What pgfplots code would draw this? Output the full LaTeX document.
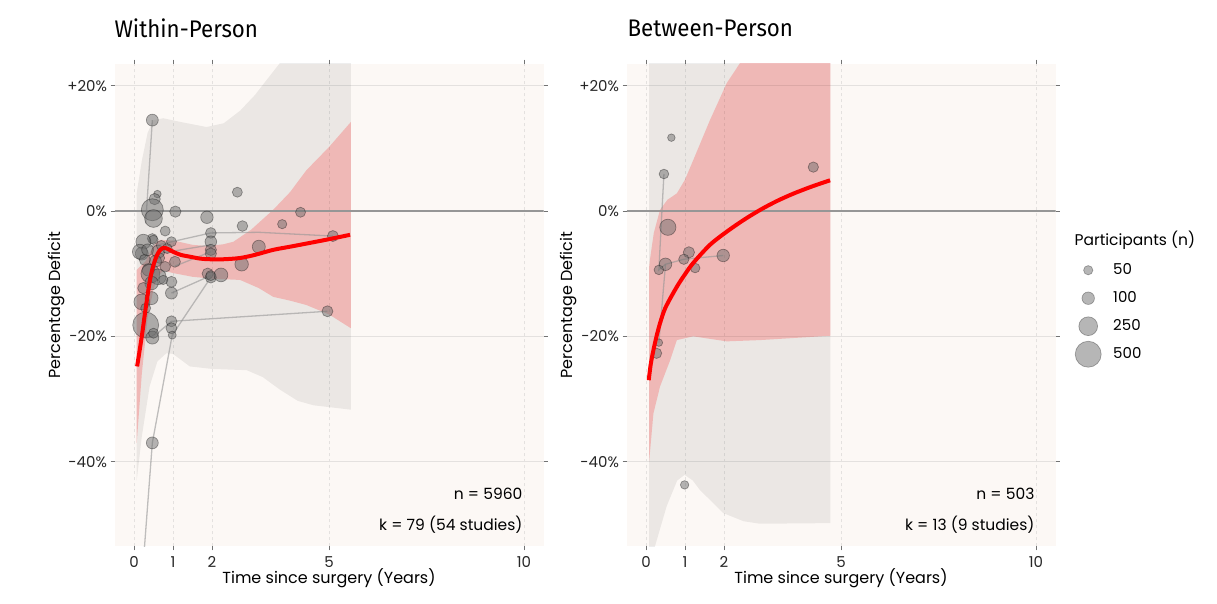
\documentclass[border=0pt]{standalone}
\usepackage{pgfplots}
\usepackage{pgfplotstable}
\pgfplotsset{compat=1.18}
\usepackage{fontspec}
\setmainfont{Poppins}
\newfontfamily\titlefont[FakeStretch=0.93]{Fira Sans}
\definecolor{bgcol}{RGB}{252,248,245}
\definecolor{gridcol}{RGB}{228,225,223}
\definecolor{zerocol}{RGB}{150,150,150}
\definecolor{linecol}{RGB}{150,150,150}
\definecolor{ptfill}{RGB}{110,110,110}
\tikzset{annot/.style={anchor=east, font=\fontsize{15.5}{18}\selectfont}}

\pgfplotstableread{
x y n
0.47 14.5 90
0.47 -37.0 90
0.60 2.7 30
0.53 1.9 80
0.47 0.2 350
0.50 -1.2 220
1.06 -0.1 80
0.80 -3.2 60
0.47 -4.4 60
0.50 -4.6 50
0.24 -4.9 150
0.20 -6.8 110
0.15 -6.5 150
0.28 -7.8 80
0.35 -6.2 90
0.62 -6.5 110
0.70 -5.5 60
0.96 -4.9 60
1.05 -8.1 75
0.80 -8.9 70
0.65 -7.5 70
0.55 -8.0 90
0.37 -9.4 100
0.42 -10.0 250
0.62 -10.5 170
0.45 -11.5 120
0.96 -11.3 75
0.96 -13.1 90
0.24 -12.3 80
0.20 -14.5 170
0.45 -13.9 110
0.30 -15.5 60
0.30 -18.2 500
0.96 -17.6 75
0.96 -18.7 75
0.98 -19.8 35
0.47 -20.2 110
0.50 -19.5 60
0.85 -6.0 60
0.75 -11.0 50
2.65 3.0 60
1.87 -1.0 100
2.78 -2.4 70
1.97 -3.5 70
1.97 -4.9 85
1.97 -6.2 80
1.97 -6.8 80
3.20 -5.7 110
2.76 -8.5 120
1.89 -10.0 80
1.97 -10.6 80
1.97 -10.3 60
2.23 -10.2 125
3.80 -2.1 50
4.27 -0.2 60
5.10 -4.0 75
4.96 -16.0 75
}\leftpts

\pgfplotstableread{
x y n
0.65 11.7 30
0.46 5.9 55
0.56 -2.6 180
1.10 -6.6 80
0.97 -7.7 65
0.50 -8.5 100
0.33 -9.4 55
1.26 -9.1 55
1.98 -7.1 100
4.29 7.0 65
0.33 -21.0 30
0.27 -22.7 65
0.99 -43.7 40
}\rightpts

\begin{document}
\begin{tikzpicture}[x=1pt,y=1pt]
\useasboundingbox (0,0) rectangle (1217,603);
\pgfplotsset{
  panel/.style={
    scale only axis, width=429pt, height=482.6pt,
    xmin=-0.5, xmax=10.5, ymin=-53.5, ymax=23.5,
    xtick={0,1,2,5,10}, ytick={-40,-20,0,20},
    yticklabels={-40\%,-20\%,0\%,+20\%},
    axis background/.style={fill=bgcol},
    axis line style={draw=none},
    tick align=outside, major tick length=4pt,
    tick style={black!55, line width=0.6pt},
    xmajorgrids, ymajorgrids,
    x grid style={dashed, gridcol, line width=0.8pt},
    y grid style={gridcol, line width=1.2pt},
    tick label style={font=\fontsize{15}{18}\selectfont, text=black!85},
    xticklabel style={yshift=-3pt},
    /pgf/number format/assume math mode=true,
    xlabel={Time since surgery (Years)},
    ylabel={Percentage Deficit},
    every axis x label/.style={at={(axis description cs:0.5,-0.066)}, anchor=center, font=\fontsize{16}{19}\selectfont},
    every axis y label/.style={at={(axis description cs:-0.134,0.5)}, anchor=center, rotate=90, font=\fontsize{16}{19}\selectfont},
    clip=true, clip mode=individual,
  },
  bubbles/.style={
    scatter, only marks, mark=*, forget plot,
    visualization depends on={0.8+0.545*sqrt(\thisrow{n}) \as \myrad},
    scatter/@pre marker code/.code={\scope[mark size=\myrad, draw=black, fill=ptfill, draw opacity=0.35, fill opacity=0.5, line width=0.7pt]},
    scatter/@post marker code/.code={\endscope},
  },
  conn/.style={linecol, line width=1.3pt, opacity=0.6, forget plot},
}

% ---------------- Left panel ----------------
\begin{axis}[panel, at={(114.5pt,56.7pt)}, anchor=south west]
\addplot[fill=black, fill opacity=0.065, draw=none, forget plot] coordinates {
(0.07,2.9) (0.2,8) (0.35,12.5) (0.5,14.5) (0.75,14.8) (1.2,14.2) (1.86,13.4) (2.3,14) (2.72,16) (3.1,18.5) (3.4,20.9) (3.74,23.6) (4.2,28) (5.56,35)
(5.56,-31.7) (4.6,-31) (4.2,-30.3) (3.74,-28.5) (3.3,-26.5) (2.89,-25.4) (2.0,-25.2) (1.43,-24.8) (1.0,-22.8) (0.83,-22.7) (0.6,-24) (0.4,-28) (0.2,-36) (0.07,-43)
} -- cycle;
\addplot[fill=red, fill opacity=0.2, draw=none, forget plot] coordinates {
(0.07,-9.4) (0.3,-8) (0.5,-5.5) (0.66,-4.6) (1.0,-4.7) (1.5,-5.4) (1.9,-5.6) (2.3,-5.3) (2.55,-4.9) (3.0,-3.0) (3.57,0.2) (4.0,3.0) (4.42,6.5) (5.0,10.2) (5.56,14.2)
(5.56,-18.7) (5.0,-16.5) (4.42,-15) (4.0,-14.3) (3.57,-13.7) (3.2,-12.3) (2.72,-11) (2.0,-10.8) (1.5,-10.5) (1.0,-9.9) (0.75,-9.5) (0.6,-10.5) (0.5,-12.5) (0.35,-17) (0.2,-26) (0.07,-37)
} -- cycle;
\addplot[zerocol, line width=1.5pt, forget plot] coordinates {(-0.5,0) (10.5,0)};
\addplot[conn] coordinates {(0.47,14.5) (0.3,-2)};
\addplot[conn] coordinates {(0.24,-56) (0.47,-37) (0.98,-19.8) (1.97,-10.6)};
\addplot[conn] coordinates {(0.47,-20.2) (0.96,-17.6) (4.96,-16.0)};
\addplot[conn] coordinates {(0.4,-5.7) (1.97,-3.5) (3.2,-3.4) (5.1,-4.0)};
\addplot[conn] coordinates {(0.62,-6.8) (1.97,-5.4)};
\addplot[conn] coordinates {(1.05,-8.8) (1.97,-6.5)};
\addplot[conn] coordinates {(0.96,-13.1) (1.97,-10.3)};
\addplot[bubbles] table[x=x,y=y] {\leftpts};
\addplot[red, line width=4pt, smooth, tension=0.5, forget plot] coordinates {
(0.08,-24.8) (0.2,-20) (0.3,-15.5) (0.41,-11) (0.5,-8.6) (0.58,-7.2) (0.66,-6.3) (0.75,-5.9) (0.85,-6.0) (1.0,-6.5) (1.2,-7.0) (1.44,-7.3) (1.7,-7.6) (1.95,-7.7) (2.3,-7.7) (2.72,-7.5) (3.1,-7.0) (3.57,-6.2) (4.0,-5.7) (4.42,-5.2) (5.0,-4.5) (5.54,-3.8)
};
\node[annot] at (axis cs:10.05,-45.2) {n = 5960};
\node[annot] at (axis cs:10.05,-50.1) {k = 79 (54 studies)};
\end{axis}

% ---------------- Right panel ----------------
\begin{axis}[panel, at={(626.5pt,56.7pt)}, anchor=south west,
  legend style={at={(axis description cs:1.0455,0.6015)}, anchor=north west, draw=none, fill=none, inner sep=0pt,
    font=\fontsize{15}{18}\selectfont, nodes={minimum height=28pt, inner sep=2pt},
    /tikz/every odd column/.append style={column sep=10pt}},
  legend cell align=left]
\addplot[fill=black, fill opacity=0.065, draw=none, forget plot] coordinates {
(0.08,30) (4.73,30) (4.73,-49.8) (2.92,-49.9) (2.5,-49.5) (1.98,-48.2) (1.38,-44.5) (1.2,-43) (0.99,-42.1) (0.8,-43) (0.53,-47.1) (0.23,-53.5) (0.08,-60)
} -- cycle;
\addplot[fill=red, fill opacity=0.2, draw=none, forget plot] coordinates {
(0.08,-9) (0.1,-7.8) (0.2,-3.5) (0.36,0.2) (0.55,1.8) (0.79,2.8) (1.0,5) (1.21,8.1) (1.64,14.5) (2.07,20.4) (2.41,23.6) (3,30) (4.73,30)
(4.73,-19.9) (2.92,-20.6) (2.07,-20.8) (1.21,-20) (0.79,-20.6) (0.62,-23.8) (0.36,-28) (0.19,-32.3) (0.08,-40)
} -- cycle;
\addplot[zerocol, line width=1.5pt, forget plot] coordinates {(-0.5,0) (10.5,0)};
\addplot[conn] coordinates {(0.46,5.9) (0.4,-1) (0.33,-9.4) (0.5,-8.5)};
\addplot[conn] coordinates {(0.33,-21.0) (0.5,-8.5) (0.97,-7.7) (1.98,-7.1)};
\addplot[bubbles] table[x=x,y=y] {\rightpts};
\addplot[red, line width=4pt, smooth, tension=0.5, forget plot] coordinates {
(0.07,-27) (0.12,-24.5) (0.19,-22.2) (0.27,-20) (0.36,-17.9) (0.5,-15.4) (0.79,-12.1) (1.0,-10.1) (1.21,-8.3) (1.64,-5.4) (2.07,-3.3) (2.5,-1.45) (2.92,0.15) (3.35,1.57) (3.78,2.77) (4.25,3.9) (4.72,4.9)
};
\node[annot] at (axis cs:10.05,-45.2) {n = 503};
\node[annot] at (axis cs:10.05,-50.1) {k = 13 (9 studies)};
\addlegendimage{only marks, mark=*, mark size=4.65pt, mark options={fill=ptfill, fill opacity=0.5, draw=black, draw opacity=0.3, line width=0.7pt}}
\addlegendentry{50}
\addlegendimage{only marks, mark=*, mark size=6.25pt, mark options={fill=ptfill, fill opacity=0.5, draw=black, draw opacity=0.3, line width=0.7pt}}
\addlegendentry{100}
\addlegendimage{only marks, mark=*, mark size=9.4pt, mark options={fill=ptfill, fill opacity=0.5, draw=black, draw opacity=0.3, line width=0.7pt}}
\addlegendentry{250}
\addlegendimage{only marks, mark=*, mark size=13pt, mark options={fill=ptfill, fill opacity=0.5, draw=black, draw opacity=0.3, line width=0.7pt}}
\addlegendentry{500}
\end{axis}

\node[anchor=west, font=\fontsize{15.5}{18}\selectfont] at (1071,363) {Participants (n)};
\node[anchor=west, font=\titlefont\fontsize{24}{28}\selectfont] at (111,575) {Within-Person};
\node[anchor=west, font=\titlefont\fontsize{24}{28}\selectfont] at (624,575) {Between-Person};
\end{tikzpicture}
\end{document}
